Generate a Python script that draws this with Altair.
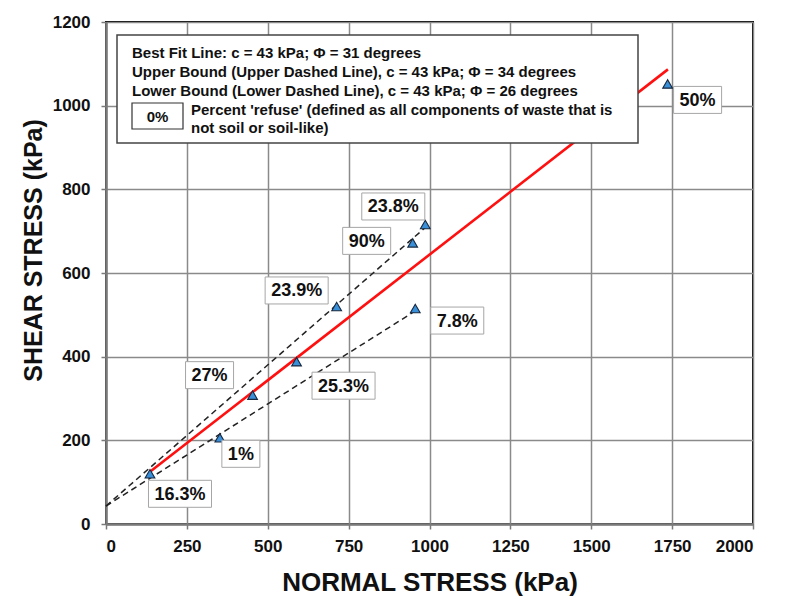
import numpy as np
import pandas as pd
import altair as alt

# Direct shear test results: normal stress, shear stress (kPa) and percent refuse
normal_stress = [136, 352, 453, 589, 713, 948, 987, 956, 1736]
shear_stress = [120, 206, 308, 388, 520, 672, 716, 515, 1052]
refuse_pct = ["16.3%", "1%", "27%", "25.3%", "23.9%", "90%", "23.8%", "7.8%", "50%"]

# Mohr-Coulomb envelopes: cohesion c (kPa) and friction angle phi (degrees)
cohesion = 43
phi_best, phi_upper, phi_lower = 31, 34, 26
best_span = [136, 1737]
upper_span = [0, 987]
lower_span = [0, 956]

x_ticks = [0, 250, 500, 750, 1000, 1250, 1500, 1750, 2000]
y_ticks = [0, 200, 400, 600, 800, 1000, 1200]

legend_lines = [
    "Best Fit Line: c = 43 kPa; \u03a6 = 31 degrees",
    "Upper Bound (Upper Dashed Line), c = 43 kPa; \u03a6 = 34 degrees",
    "Lower Bound (Lower Dashed Line), c = 43 kPa; \u03a6 = 26 degrees",
]
legend_key = "0%"
legend_key_text = ["Percent 'refuse' (defined as all components of waste that is",
                   "not soil or soil-like)"]

# ---- layout ----
W, H = 647, 502
X_MAX, Y_MAX = 2000, 1200
KX, KY = W / X_MAX, H / Y_MAX          # pixels per kPa
FONT = "Liberation Sans"
LABEL_SIZE = 18

# label box centre offset from its point, in pixels (right, down)
label_offsets = [(30, 20), (21, 16), (-43, -20), (47, 24), (-40, -16),
                 (-46, -2), (-32, -18), (42, 12), (30, 16)]
BOX_H = 27


def text_width(s, size):
    w = {".": 0.278, "%": 0.889}
    return sum(w.get(ch, 0.556) for ch in s) * size


pts = pd.DataFrame({"sigma": normal_stress, "tau": shear_stress, "label": refuse_pct})
rows = []
for (s, t, lab), (dx, dy) in zip(zip(normal_stress, shear_stress, refuse_pct), label_offsets):
    bw = text_width(lab, LABEL_SIZE) + 12
    rows.append({
        "label": lab,
        "lx": s + dx / KX, "ly": t - dy / KY,
        "bx": s + (dx - bw / 2) / KX, "bx2": s + (dx + bw / 2) / KX,
        "by": t - (dy - BOX_H / 2) / KY, "by2": t - (dy + BOX_H / 2) / KY,
    })
labels = pd.DataFrame(rows)


def envelope(name, phi, span):
    return pd.DataFrame({
        "line": name,
        "sigma": span,
        "tau": [cohesion + np.tan(np.radians(phi)) * s for s in span],
    })


best = envelope("best", phi_best, best_span)
bounds = pd.concat([envelope("upper", phi_upper, upper_span),
                    envelope("lower", phi_lower, lower_span)])

x_scale = alt.Scale(domain=[0, X_MAX], nice=False, zero=False)
y_scale = alt.Scale(domain=[0, Y_MAX], nice=False, zero=False)
x_axis = alt.Axis(values=x_ticks, format="d", title="NORMAL STRESS (kPa)", labelPadding=9,
                  titleFontSize=26, titleX=W / 2, titleY=66, titleBaseline="alphabetic",
                  titleAlign="center")
y_axis = alt.Axis(values=y_ticks, format="d", title="SHEAR STRESS (kPa)", labelPadding=11,
                  titleFontSize=25, titleX=-65, titleY=228, titleBaseline="alphabetic",
                  titleAlign="center", titleAngle=-90)


def X(f):
    return alt.X(f"{f}:Q", scale=x_scale, axis=x_axis)


def Y(f):
    return alt.Y(f"{f}:Q", scale=y_scale, axis=y_axis)


dashed = alt.Chart(bounds).mark_line(color="#222", strokeWidth=1.5, strokeDash=[6, 4]).encode(
    x=X("sigma"), y=Y("tau"), detail="line:N")
fit = alt.Chart(best).mark_line(color="#ff1010", strokeWidth=2.6).encode(x=X("sigma"), y=Y("tau"))
tri = alt.Chart(pts).mark_point(shape="triangle-up", size=95, filled=True, fill="#3a8fd9",
                                stroke="#17283f", strokeWidth=1.1, opacity=1).encode(
    x=X("sigma"), y=Y("tau"))
boxes = alt.Chart(labels).mark_rect(fill="white", stroke="#a6a6a6", strokeWidth=1).encode(
    x=X("bx"), x2="bx2", y=Y("by"), y2="by2")
texts = alt.Chart(labels).mark_text(font=FONT, fontWeight="bold", fontSize=LABEL_SIZE,
                                    color="#111", baseline="middle", align="center", dy=1).encode(
    x=X("lx"), y=Y("ly"), text="label:N")

one = pd.DataFrame({"k": [0]})
legend_box = alt.Chart(one).mark_rect(fill="white", stroke="#444", strokeWidth=1.5).encode(
    x=alt.value(11), x2=alt.value(532), y=alt.value(13), y2=alt.value(121))
key_box = alt.Chart(one).mark_rect(fill="white", stroke="#333", strokeWidth=1.2).encode(
    x=alt.value(26), x2=alt.value(77), y=alt.value(81), y2=alt.value(107))

legend_texts = []
for i, line in enumerate(legend_lines):
    legend_texts.append(alt.Chart(one).mark_text(
        font=FONT, fontWeight="bold", fontSize=15, color="#111", align="left", baseline="middle",
        text=line).encode(x=alt.value(26), y=alt.value(31 + 19 * i)))
legend_texts.append(alt.Chart(one).mark_text(
    font=FONT, fontWeight="bold", fontSize=15, color="#111", align="center", baseline="middle",
    text=legend_key).encode(x=alt.value(51.5), y=alt.value(95)))
for i, line in enumerate(legend_key_text):
    legend_texts.append(alt.Chart(one).mark_text(
        font=FONT, fontWeight="bold", fontSize=15, color="#111", align="left", baseline="middle",
        text=line).encode(x=alt.value(85), y=alt.value(88 + 18 * i)))

chart = alt.layer(dashed, fit, tri, boxes, texts, legend_box, key_box, *legend_texts).properties(
    width=W, height=H,
    autosize=alt.AutoSizeParams(type="none"),
    padding={"left": 106, "top": 22, "right": 39, "bottom": 86},
    background="white",
).configure_view(
    stroke="black", strokeWidth=2
).configure_axis(
    labelFont=FONT, labelFontWeight="bold", labelFontSize=17, labelColor="#111",
    titleFont=FONT, titleFontWeight="bold", titleColor="#111",
    grid=True, gridColor="#8a8a8a", gridWidth=1.5,
    domainColor="#7a7a7a", domainWidth=2.5,
    tickColor="#7a7a7a", tickSize=5, tickWidth=1.5,
)

chart.save("out.html", embed_options={"renderer": "svg", "actions": False})
